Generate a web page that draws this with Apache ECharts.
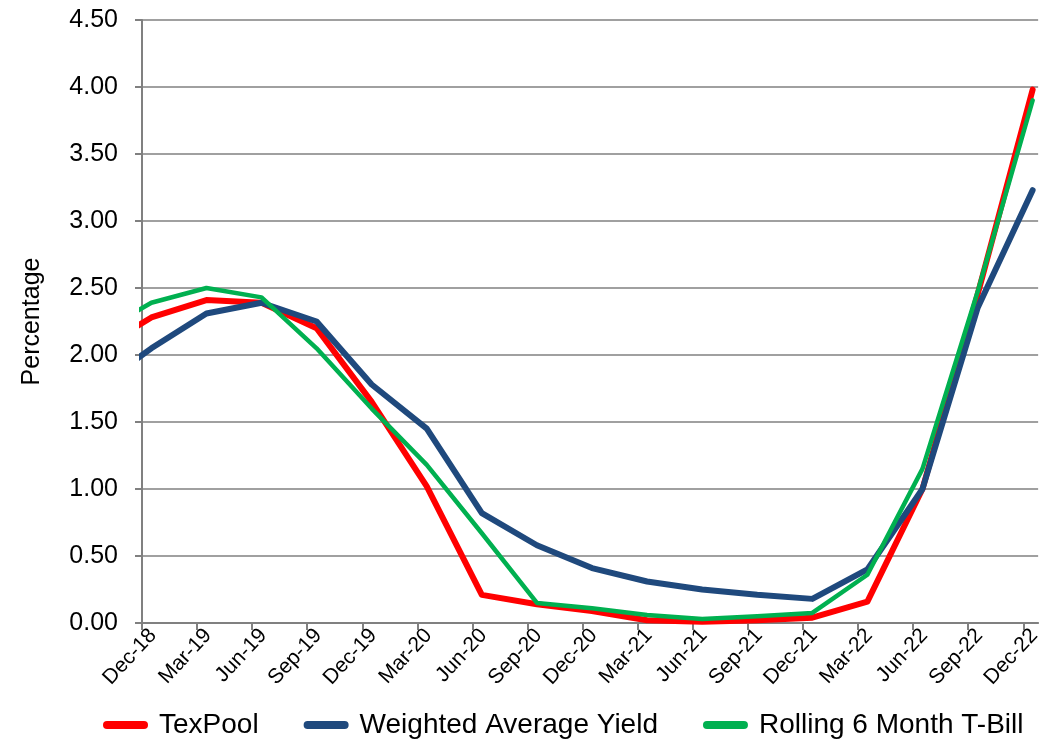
<!DOCTYPE html>
<html>
<head>
<meta charset="utf-8">
<script src="https://cdn.jsdelivr.net/npm/echarts@6/dist/echarts.min.js"></script>
<style>
html,body{margin:0;padding:0;background:#fff;}
#chart{width:1044px;height:744px;}
</style>
</head>
<body>
<div id="chart"></div>
<script>
// Quarter labels (first entry is the prior quarter, only partly visible at the left edge)
const quarters = ['Sep-18','Dec-18','Mar-19','Jun-19','Sep-19','Dec-19','Mar-20','Jun-20','Sep-20','Dec-20','Mar-21','Jun-21','Sep-21','Dec-21','Mar-22','Jun-22','Sep-22','Dec-22'];
const texpool  = [2.03, 2.28, 2.41, 2.39, 2.20, 1.65, 1.02, 0.21, 0.14, 0.09, 0.02, 0.01, 0.02, 0.04, 0.16, 1.00, 2.45, 3.98];
const weighted = [1.75, 2.05, 2.31, 2.39, 2.25, 1.78, 1.45, 0.82, 0.58, 0.41, 0.31, 0.25, 0.21, 0.18, 0.40, 1.00, 2.35, 3.23];
const tbill    = [2.15, 2.39, 2.50, 2.43, 2.05, 1.60, 1.18, 0.67, 0.15, 0.11, 0.06, 0.03, 0.05, 0.075, 0.36, 1.15, 2.47, 3.90];
const yTicks = [0, 0.5, 1, 1.5, 2, 2.5, 3, 3.5, 4, 4.5];
const seriesNames = ['TexPool', 'Weighted Average Yield', 'Rolling 6 Month T-Bill'];

// data are dated mid-month, ticks at month start
const pointOffset = 0.17;
const labelOffset = 0.2;
const firstShown = 1;
const tickIdx = quarters.map((q, i) => i).filter(i => i >= firstShown);

function toPoints(arr) { return arr.map((v, i) => [i + pointOffset, v]); }

const FONT = '"Liberation Sans", Arial, sans-serif';
const chart = echarts.init(document.getElementById('chart'), null, {renderer: 'canvas'});
const legendIcon = 'path://M4,0 L41,0 A4,4 0 0 1 41,8 L4,8 A4,4 0 0 1 4,0 Z';

chart.setOption({
  animation: false,
  backgroundColor: '#ffffff',
  grid: {left: 142, right: 0, top: 20, bottom: 121, containLabel: false},
  legend: {
    bottom: 0,
    left: 98,
    itemWidth: 45,
    itemHeight: 8,
    itemGap: 45,
    icon: legendIcon,
    textStyle: {fontFamily: FONT, fontSize: 28, color: '#000', padding: [0, 0, 0, 6]},
    data: seriesNames
  },
  xAxis: {
    type: 'value',
    min: firstShown,
    max: quarters.length - 1 + 0.27,
    interval: 1,
    splitLine: {show: false},
    axisLine: {lineStyle: {color: '#808080', width: 2}},
    axisTick: {show: true, length: 7, lineStyle: {color: '#808080', width: 2}, customValues: tickIdx},
    axisLabel: {
      customValues: tickIdx.map(i => i + labelOffset),
      formatter: v => quarters[Math.round(v - labelOffset)] || '',
      rotate: 47,
      margin: 9,
      fontFamily: FONT,
      fontSize: 21,
      color: '#000'
    }
  },
  yAxis: {
    type: 'value',
    min: yTicks[0],
    max: yTicks[yTicks.length - 1],
    interval: 0.5,
    name: 'Percentage',
    nameLocation: 'middle',
    nameGap: 97,
    nameRotate: 90,
    nameTextStyle: {fontFamily: FONT, fontSize: 25, color: '#000'},
    axisLine: {show: true, lineStyle: {color: '#808080', width: 2}},
    axisTick: {show: true, length: 7, lineStyle: {color: '#808080', width: 2}},
    splitLine: {show: true, lineStyle: {color: '#a0a0a0', width: 2}},
    axisLabel: {
      formatter: v => v.toFixed(2),
      margin: 24,
      fontFamily: FONT,
      fontSize: 25,
      color: '#000'
    }
  },
  series: [
    {name: seriesNames[0], type: 'line', data: toPoints(texpool), showSymbol: false, symbol: 'none', clip: true,
     lineStyle: {color: '#ff0000', width: 6, cap: 'round', join: 'round'}, itemStyle: {color: '#ff0000'}},
    {name: seriesNames[1], type: 'line', data: toPoints(weighted), showSymbol: false, symbol: 'none', clip: true,
     lineStyle: {color: '#1f497d', width: 6, cap: 'round', join: 'round'}, itemStyle: {color: '#1f497d'}},
    {name: seriesNames[2], type: 'line', data: toPoints(tbill), showSymbol: false, symbol: 'none', clip: true,
     lineStyle: {color: '#00b050', width: 4.5, cap: 'round', join: 'round'}, itemStyle: {color: '#00b050'}}
  ]
});
</script>
</body>
</html>
